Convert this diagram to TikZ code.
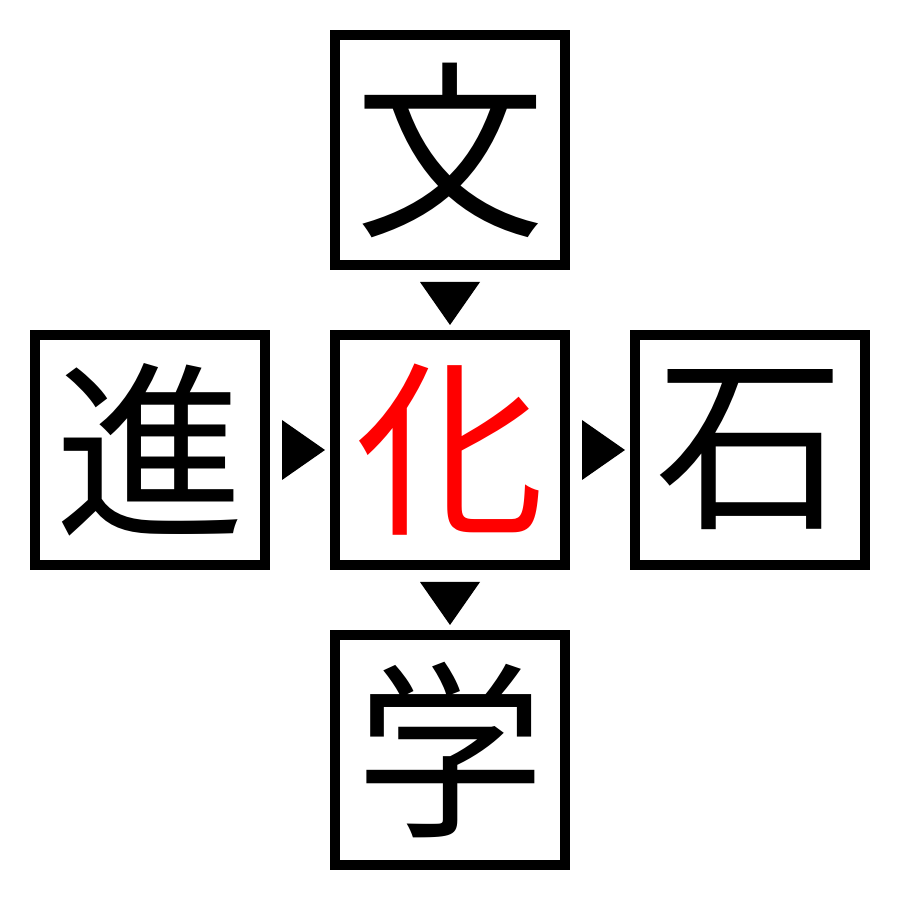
\documentclass[tikz,border=0pt]{standalone}
\usepackage{fontspec}
\newfontfamily\cjk{Noto Sans CJK JP}
\usetikzlibrary{positioning,calc}
\tikzset{kanji/.style={draw=black, line width=0.1cm, minimum size=2.3cm, inner sep=0pt, outer sep=0pt, font=\cjk\fontsize{54}{54}\selectfont}}

\begin{document}
\begin{tikzpicture}
				\useasboundingbox (0,0) rectangle (9,9);
				\node[kanji, text=red] (hua) at (4.5,4.5) {化};
				\node[kanji, above=0.7cm of hua] (wen) {文};
				\node[kanji, left=0.7cm of hua] (jin) {進};
				\node[kanji, right=0.7cm of hua] (shi) {石};
				\node[kanji, below=0.7cm of hua] (xue) {学};
				\fill ($(wen.south)+(-0.3,-0.17)$) -- ++(0.6,0) -- ($(hua.north)+(0,0.1)$) -- cycle;
				\fill ($(hua.south)+(-0.3,-0.17)$) -- ++(0.6,0) -- ($(xue.north)+(0,0.1)$) -- cycle;
				\fill ($(jin.east)+(0.17,-0.3)$) -- ++(0,0.6) -- ($(hua.west)+(-0.1,0)$) -- cycle;
				\fill ($(hua.east)+(0.17,-0.3)$) -- ++(0,0.6) -- ($(shi.west)+(-0.1,0)$) -- cycle;
			\end{tikzpicture}
\end{document}
